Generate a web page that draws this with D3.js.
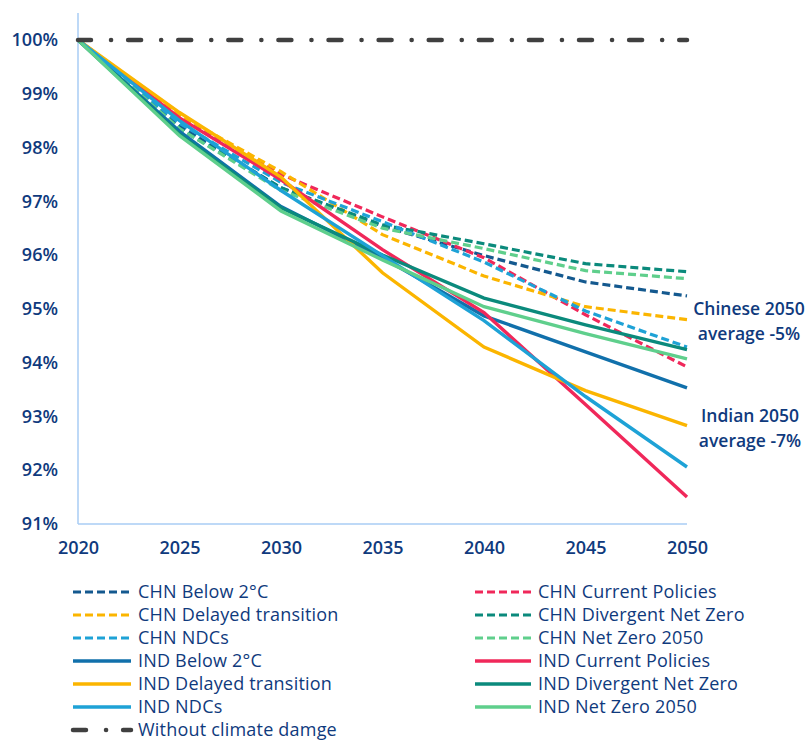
<!DOCTYPE html>
<html lang="en">
<head>
<meta charset="utf-8">
<style type="text/css">
    body { margin: 0; background: #fff; }
    svg { display: block; }
    .tick text, .lbl { fill: #0f3a7d; font-family: "Open Sans", sans-serif; }
</style>
</head>
<body>
<svg width="811" height="740"></svg>
<script src="https://cdnjs.cloudflare.com/ajax/libs/d3/7.8.5/d3.min.js"></script>
<script type="text/javascript">

    // values (% of GDP without climate damage)
    var years = [2020, 2025, 2030, 2035, 2040, 2045, 2050];
    var yTicks = [91, 92, 93, 94, 95, 96, 97, 98, 99, 100];

    var chnBelow2     = [100, 98.40, 97.25, 96.54, 95.99, 95.50, 95.24];
    var chnCurrent    = [100, 98.55, 97.50, 96.71, 95.95, 94.89, 93.92];
    var chnDelayed    = [100, 98.60, 97.55, 96.38, 95.61, 95.04, 94.80];
    var chnDivergent  = [100, 98.35, 97.25, 96.56, 96.21, 95.84, 95.69];
    var chnNdcs       = [100, 98.45, 97.35, 96.62, 95.87, 94.96, 94.29];
    var chnNetZero    = [100, 98.35, 97.20, 96.50, 96.12, 95.71, 95.56];
    var indBelow2     = [100, 98.30, 96.90, 95.95, 94.87, 94.20, 93.53];
    var indCurrent    = [100, 98.55, 97.40, 96.10, 94.93, 93.22, 91.50];
    var indDelayed    = [100, 98.65, 97.45, 95.67, 94.29, 93.48, 92.83];
    var indDivergent  = [100, 98.25, 96.88, 96.00, 95.20, 94.70, 94.24];
    var indNdcs       = [100, 98.50, 97.20, 95.99, 94.78, 93.37, 92.06];
    var indNetZero    = [100, 98.22, 96.82, 95.91, 95.04, 94.54, 94.07];
    var noDamage      = [100, 100, 100, 100, 100, 100, 100];

    var series = [
        {name: "CHN Below 2°C",          values: chnBelow2,    color: "#14598f", type: "dash"},
        {name: "CHN Current Policies",   values: chnCurrent,   color: "#f0285a", type: "dash"},
        {name: "CHN Delayed transition", values: chnDelayed,   color: "#fbb500", type: "dash"},
        {name: "CHN Divergent Net Zero", values: chnDivergent, color: "#0b8a7c", type: "dash"},
        {name: "CHN NDCs",               values: chnNdcs,      color: "#1ea2d6", type: "dash"},
        {name: "CHN Net Zero 2050",      values: chnNetZero,   color: "#5fcf8c", type: "dash"},
        {name: "IND Below 2°C",          values: indBelow2,    color: "#1170ab", type: "solid"},
        {name: "IND Current Policies",   values: indCurrent,   color: "#f0285a", type: "solid"},
        {name: "IND Delayed transition", values: indDelayed,   color: "#fbb500", type: "solid"},
        {name: "IND Divergent Net Zero", values: indDivergent, color: "#0b8a7c", type: "solid"},
        {name: "IND NDCs",               values: indNdcs,      color: "#1ea2d6", type: "solid"},
        {name: "IND Net Zero 2050",      values: indNetZero,   color: "#5fcf8c", type: "solid"},
        {name: "Without climate damge",  values: noDamage,     color: "#404040", type: "dashdot"}
    ];

    // legend layout: left column then right column
    var legendLeft = ["CHN Below 2°C", "CHN Delayed transition", "CHN NDCs", "IND Below 2°C",
                      "IND Delayed transition", "IND NDCs", "Without climate damge"];
    var legendRight = ["CHN Current Policies", "CHN Divergent Net Zero", "CHN Net Zero 2050",
                       "IND Current Policies", "IND Divergent Net Zero", "IND Net Zero 2050"];

    var svg = d3.select("svg");

    var x = d3.scaleLinear().domain([2020, 2050]).range([78, 687]);
    var y = d3.scaleLinear().domain([91, 100.5]).range([524, 13]);

    function styleLine(sel, d) {
        sel.attr("stroke", d.color).attr("fill", "none");
        if (d.type == "dash") {
            sel.attr("stroke-width", 3.2).attr("stroke-dasharray", "8,4");
        } else if (d.type == "dashdot") {
            sel.attr("stroke-width", 4.5).attr("stroke-linecap", "round")
               .attr("stroke-dasharray", "13,20,0.1,17");
        } else {
            sel.attr("stroke-width", 3.4);
        }
    }

    // axes
    var yAxis = svg.append("g")
        .attr("transform", "translate(78,0)")
        .call(d3.axisLeft(y).tickValues(yTicks).tickSize(0).tickPadding(20)
            .tickFormat(function (d) { return d + "%"; }));
    yAxis.select(".domain").remove();
    yAxis.selectAll("text").style("font-size", "18px").style("font-weight", 600);

    var xAxis = svg.append("g")
        .attr("transform", "translate(0,524)")
        .call(d3.axisBottom(x).tickValues(years).tickSize(0).tickPadding(17)
            .tickFormat(d3.format("d")));
    xAxis.select(".domain").remove();
    xAxis.selectAll("text").style("font-size", "18px").style("font-weight", 600);

    svg.append("line")
        .attr("x1", 78).attr("x2", 78).attr("y1", y(100.5)).attr("y2", y(91))
        .attr("stroke", "#a9ccf4").attr("stroke-width", 1.5);
    svg.append("line")
        .attr("x1", 78).attr("x2", x(2050)).attr("y1", y(91)).attr("y2", y(91))
        .attr("stroke", "#a9ccf4").attr("stroke-width", 1.5);

    // series lines
    var line = d3.line()
        .x(function (d, i) { return x(years[i]); })
        .y(function (d) { return y(d); });

    series.forEach(function (d) {
        svg.append("path")
            .attr("d", line(d.values))
            .call(styleLine, d);
    });

    // annotations
    var notes = [
        {lines: ["Chinese 2050", "average -5%"], cx: 749, cy: 315},
        {lines: ["Indian 2050", "average -7%"], cx: 750, cy: 422}
    ];
    notes.forEach(function (n) {
        n.lines.forEach(function (t, i) {
            svg.append("text").attr("class", "lbl")
                .attr("x", n.cx).attr("y", n.cy + i * 25)
                .attr("text-anchor", "middle")
                .style("font-size", "17.5px").style("font-weight", 600)
                .text(t);
        });
    });

    // legend
    function drawLegend(names, x0, tx) {
        names.forEach(function (name, i) {
            var d = series.find(function (s) { return s.name == name; });
            var yy = 592 + i * 23;
            svg.append("line")
                .attr("x1", x0).attr("x2", tx - 7).attr("y1", yy).attr("y2", yy)
                .call(styleLine, d);
            svg.append("text").attr("class", "lbl")
                .attr("x", tx).attr("y", yy + 5.5)
                .style("font-size", "18px").style("font-weight", 500)
                .style("letter-spacing", "0.2px")
                .text(name);
        });
    }
    drawLegend(legendLeft, 73, 138);
    drawLegend(legendRight, 475, 538);

</script>
</body>
</html>
